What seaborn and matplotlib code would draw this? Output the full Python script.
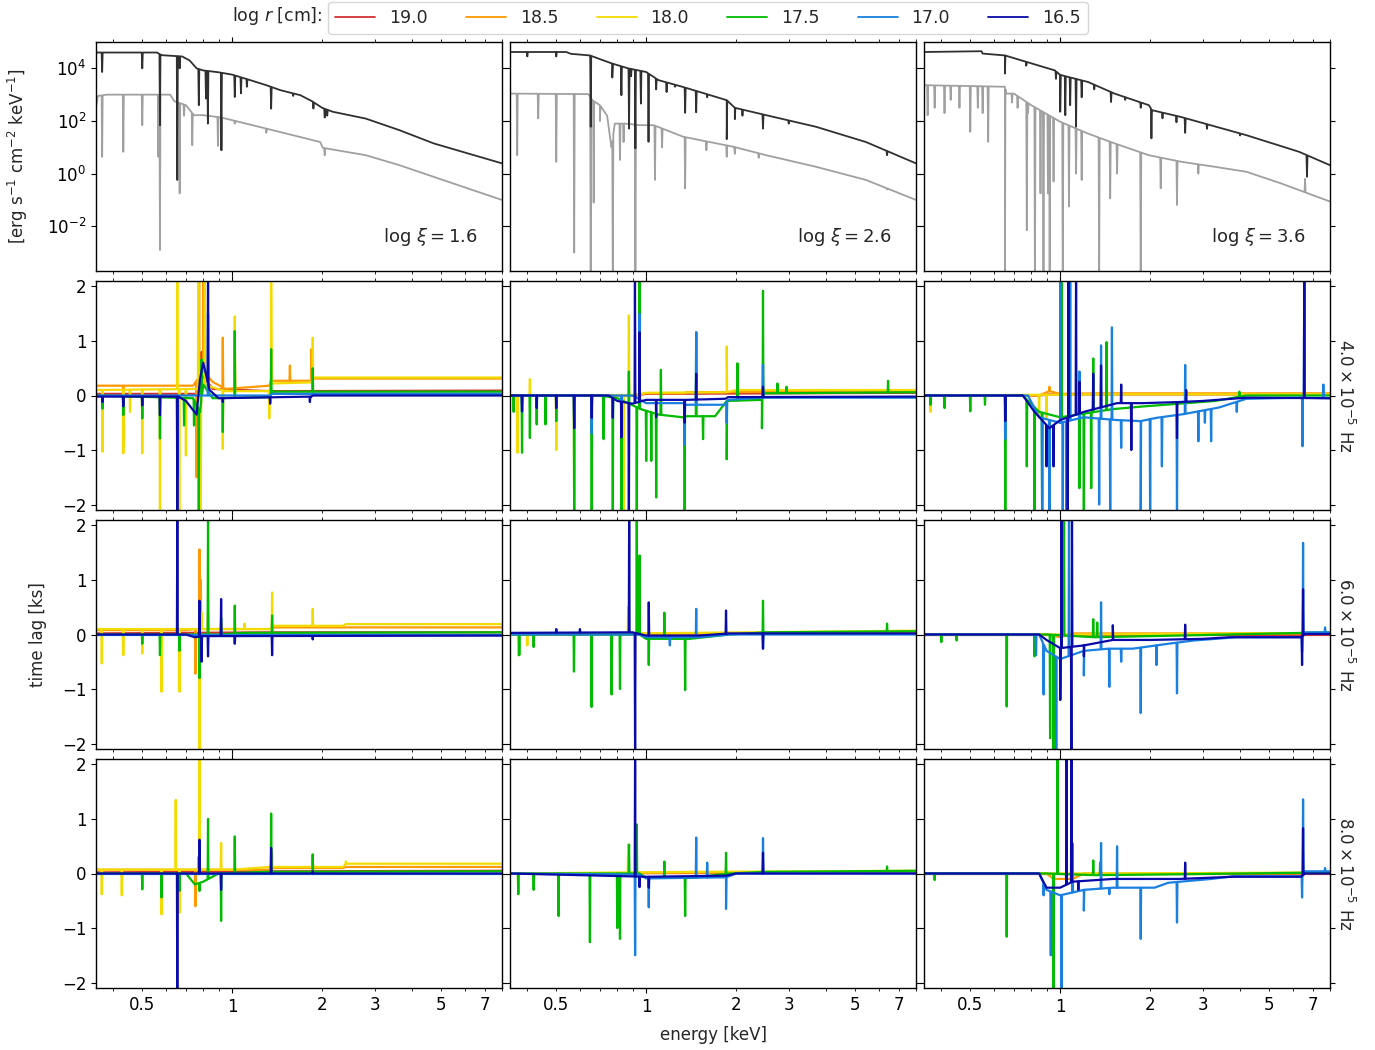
import numpy as np
import matplotlib
matplotlib.use("Agg")
import matplotlib.pyplot as plt
import seaborn as sns
from matplotlib.lines import Line2D
from matplotlib.ticker import FixedLocator, FuncFormatter, NullLocator, LogFormatterSciNotation

# ---------------- data ----------------
radii_labels = ["19.0", "18.5", "18.0", "17.5", "17.0", "16.5"]
radii_colors = ["#d23232", "#ff9900", "#f2dc00", "#00bb00", "#1a80e0", "#0a0aa8"]
xi_labels = ["1.6", "2.6", "3.6"]
freq_labels = [r"$4.0\times10^{-5}$ Hz", r"$6.0\times10^{-5}$ Hz", r"$8.0\times10^{-5}$ Hz"]

# spectra: continuum anchors (energy keV, log10 flux) and absorption lines (energy, log10 flux at line bottom)
dark_cont_x16 = [(0.35, 4.6), (0.56, 4.6), (0.58, 4.5), (0.68, 4.45), (0.72, 4.3), (0.76, 4.0), (0.80, 3.92), (0.9, 3.85),
                 (1.0, 3.76), (1.15, 3.55), (1.3, 3.36), (1.45, 3.17), (1.69, 2.98), (1.85, 2.75), (2.0, 2.5), (2.17, 2.35),
                 (2.8, 2.09), (3.63, 1.65), (4.72, 1.15), (6.14, 0.77), (8.0, 0.39)]
dark_lines_x16 = [(0.367, 3.86), (0.50, 4.0), (0.573, 1.84), (0.655, -0.24), (0.667, 4.0), (0.773, 2.6), (0.817, 2.85),
                  (0.829, 1.9), (0.92, 0.89), (1.02, 2.91), (1.07, 3.05), (1.12, 3.3), (1.35, 2.47), (1.6, 2.95),
                  (1.87, 2.47), (2.04, 2.13), (2.08, 2.2)]
gray_cont_x16 = [(0.35, 2.5), (0.355, 2.95), (0.38, 3.0), (0.62, 3.0), (0.64, 2.75), (0.70, 2.6), (0.745, 2.22), (0.80, 2.22),
                 (0.92, 2.13), (1.0, 2.03), (1.3, 1.71), (1.69, 1.39), (1.97, 1.2), (2.01, 0.98), (2.8, 0.70),
                 (3.63, 0.32), (4.72, -0.12), (6.14, -0.56), (8.0, -1.0)]
gray_lines_x16 = [(0.367, 0.64), (0.432, 0.83), (0.50, 1.84), (0.566, 0.64), (0.573, -2.9), (0.667, -0.75), (0.69, 2.2),
                  (0.735, 1.08), (0.896, 1.05), (0.92, 0.89), (1.02, 1.9), (1.07, 1.95), (1.3, 1.55), (2.04, 0.7)]

dark_cont_x26 = [(0.35, 4.62), (0.54, 4.62), (0.56, 4.55), (0.648, 4.49), (0.70, 4.35), (0.77, 4.18), (0.87, 4.0),
                 (1.0, 3.86), (1.1, 3.55), (1.33, 3.29), (1.86, 2.79), (1.98, 2.5), (2.52, 2.22), (3.7, 1.78),
                 (5.44, 1.2), (8.0, 0.39)]
dark_lines_x26 = [(0.40, 4.45), (0.50, 4.45), (0.652, 1.78), (0.77, 3.65), (0.826, 2.98), (0.876, 1.71), (0.89, 3.7),
                  (0.92, 0.96), (0.96, 2.66), (1.018, 1.21), (1.08, 3.2), (1.17, 3.1), (1.25, 3.3), (1.35, 2.31),
                  (1.47, 2.33), (1.6, 2.9), (1.86, 1.31), (1.98, 2.07), (2.1, 2.2), (2.46, 1.71), (3.0, 1.9), (6.4, 0.7)]
gray_cont_x26 = [(0.35, 3.04), (0.64, 3.02), (0.66, 2.79), (0.70, 2.6), (0.74, 2.2), (0.765, 1.0), (0.785, 1.9),
                 (0.85, 1.9), (0.953, 1.84), (1.06, 1.84), (1.33, 1.40), (1.96, 1.02), (2.52, 0.70), (3.7, 0.26),
                 (5.44, -0.24), (8.0, -1.0)]
gray_lines_x26 = [(0.37, 0.70), (0.435, 2.1), (0.50, 0.45), (0.574, -3.0), (0.652, -4.5), (0.667, -1.1), (0.70, 2.0),
                  (0.773, -4.5), (0.817, 0.52), (0.84, 1.2), (0.92, -4.5), (1.07, -0.24), (1.13, 1.0), (1.35, -0.56),
                  (1.59, 0.89), (1.86, 0.64), (1.98, 0.75), (2.38, 0.6), (6.4, -0.6)]

dark_cont_x36 = [(0.35, 4.62), (0.545, 4.65), (0.55, 4.56), (0.653, 4.49), (0.96, 3.92), (1.0, 3.75), (1.24, 3.48),
                 (1.52, 3.04), (1.98, 2.6), (2.03, 2.41), (2.54, 2.15), (4.2, 1.46), (6.3, 0.83), (8.0, 0.32)]
dark_lines_x36 = [(0.653, 3.8), (0.77, 4.1), (0.968, 3.6), (1.0, 2.35), (1.04, 2.22), (1.08, 2.6), (1.13, 1.78),
                  (1.18, 2.9), (1.3, 3.2), (1.48, 2.72), (1.65, 2.8), (1.86, 2.5), (2.02, 1.34), (2.2, 2.1),
                  (2.45, 1.95), (2.62, 1.55), (3.1, 1.7), (4.0, 1.45), (6.7, -0.12)]
gray_cont_x36 = [(0.35, 3.36), (0.653, 3.3), (0.66, 3.04), (0.70, 3.04), (0.80, 2.6), (1.0, 1.97), (1.24, 1.52),
                 (1.52, 1.15), (1.98, 0.70), (2.54, 0.45), (3.29, 0.26), (4.2, 0.07), (5.48, -0.37), (8.0, -1.06)]
gray_lines_x36 = [(0.36, 2.22), (0.38, 2.5), (0.41, 2.3), (0.43, 2.8), (0.46, 2.5), (0.50, 1.59), (0.53, 2.5),
                  (0.55, 2.3), (0.574, 1.21), (0.653, -4.5), (0.69, 2.7), (0.72, 2.5), (0.773, -2.15), (0.78, 2.3),
                  (0.823, -4.5), (0.859, -0.75), (0.879, -4.5), (0.91, -0.75), (0.922, -4.5), (0.95, -0.3),
                  (1.02, -4.5), (1.07, -1.25), (1.13, 0.0), (1.18, -0.24), (1.35, -4.5), (1.47, -0.94), (1.55, 0.0),
                  (1.86, -4.5), (2.17, -0.56), (2.46, -1.19), (2.9, 0.0), (6.6, -0.2)]

# time lags: baselines per radius index (energy, lag ks) and spikes (energy, radius index, lag ks)
base_f4_x16 = {0: [(0.35, 0.03), (0.76, 0.03), (0.80, 0.35), (0.86, 0.12), (1.34, 0.08), (8, 0.09)],
               1: [(0.35, 0.18), (0.74, 0.18), (0.80, 0.45), (0.86, 0.25), (0.95, 0.12), (1.33, 0.18), (1.35, 0.27),
                   (1.84, 0.27), (1.86, 0.31), (8, 0.31)],
               2: [(0.35, 0.1), (0.76, 0.12), (0.80, 0.2), (0.95, 0.08), (1.33, 0.08), (1.35, 0.22), (1.84, 0.24),
                   (1.86, 0.33), (8, 0.33)],
               3: [(0.35, 0), (0.74, -0.05), (0.78, -0.3), (0.80, 0.2), (0.86, -0.05), (1.34, -0.03), (1.36, 0.07), (8, 0.07)],
               4: [(0.35, 0), (1.34, 0), (1.36, 0.03), (8, 0.03)],
               5: [(0.35, -0.02), (0.66, -0.02), (0.70, -0.1), (0.76, -0.35), (0.78, 0.3), (0.80, 0.6), (0.84, 0.1),
                   (0.9, -0.05), (1.84, -0.02), (1.86, 0.0), (8, 0.0)]}
spikes_f4_x16 = [(0.368, 2, -1.03), (0.432, 2, -1.06), (0.455, 2, -0.3), (0.50, 2, -1.06), (0.573, 2, -2.3), (0.655, 2, 2.3),
                 (0.665, 2, -2.3), (0.70, 2, -1.1), (0.77, 2, 2.3), (0.785, 2, -2.3), (0.81, 2, 2.3), (0.93, 2, -0.98),
                 (1.02, 2, 1.45), (1.33, 2, -0.42), (1.35, 2, 2.3), (1.86, 2, 1.06),
                 (0.432, 1, -0.95), (0.76, 1, -1.5), (0.775, 1, 2.3), (0.80, 1, 2.3), (0.93, 1, 1.06), (1.02, 1, 1.2),
                 (1.56, 1, 0.55), (1.84, 1, 0.85), (0.79, 0, 0.8),
                 (0.368, 3, -0.24), (0.432, 3, -0.36), (0.50, 3, -0.42), (0.573, 3, -0.79), (0.69, 3, -0.55),
                 (0.745, 3, -0.55), (0.773, 3, -2.3), (0.79, 3, 0.66), (0.93, 3, -0.67), (1.02, 3, 1.18), (1.35, 3, 0.85),
                 (1.86, 3, 0.5), (0.655, 4, -1.5), (0.83, 4, 1.5),
                 (0.368, 5, -0.12), (0.432, 5, -0.2), (0.50, 5, -0.18), (0.573, 5, -0.36), (0.655, 5, -2.3),
                 (0.83, 5, 2.3), (0.93, 5, -0.12), (1.34, 5, -0.15), (1.82, 5, -0.12)]

base_f4_x26 = {0: [(0.35, 0), (0.9, 0), (1.0, 0.03), (8, 0.05)],
               1: [(0.35, 0), (0.93, 0.0), (1.0, 0.04), (1.34, 0.04), (1.36, 0.06), (8, 0.07)],
               2: [(0.35, 0), (0.9, 0.01), (1.0, 0.05), (1.86, 0.06), (2.0, 0.1), (8, 0.1)],
               3: [(0.35, 0), (0.70, 0), (0.80, -0.05), (0.96, -0.25), (1.1, -0.35), (1.33, -0.4), (1.36, -0.38),
                   (1.7, -0.38), (1.86, -0.1), (2.44, -0.08), (2.48, 0.04), (8, 0.06)],
               4: [(0.35, 0), (0.9, 0), (1.0, -0.14), (1.33, -0.14), (1.36, -0.17), (1.84, -0.17), (1.88, -0.08),
                   (2.45, -0.04), (8, -0.04)],
               5: [(0.35, 0), (0.75, 0), (0.80, -0.1), (0.9, -0.15), (1.0, -0.08), (1.36, -0.08), (1.84, -0.06),
                   (1.88, -0.03), (8, -0.02)]}
spikes_f4_x26 = [(0.371, 2, -1.05), (0.408, 2, 0.3), (0.50, 2, -1.0), (0.574, 2, -2.3), (0.84, 2, -2.3), (0.875, 2, 1.47),
                 (1.86, 2, 0.9), (0.95, 1, 0.13),
                 (0.36, 3, -0.3), (0.384, 3, -1.05), (0.408, 3, -0.78), (0.43, 3, -0.53), (0.46, 3, -0.53), (0.50, 3, -0.47),
                 (0.574, 3, -2.3), (0.657, 3, -2.3), (0.72, 3, -0.8), (0.773, 3, -2.3), (0.826, 3, -2.3), (0.875, 3, 0.44),
                 (0.93, 3, -2.3), (0.95, 3, 2.3), (1.0, 3, -1.2), (1.04, 3, -1.2), (1.08, 3, -1.87), (1.12, 3, 0.47),
                 (1.345, 3, -2.3), (1.47, 3, 1.16), (1.55, 3, -0.8), (1.86, 3, -1.17), (2.02, 3, 0.59), (2.44, 3, -0.6),
                 (2.46, 3, 1.92), (2.75, 3, 0.22), (2.95, 3, 0.16), (6.45, 3, 0.27),
                 (0.384, 4, -0.3), (0.574, 4, -0.6), (0.657, 4, -0.7), (0.826, 4, -0.7), (0.95, 4, 1.5), (1.345, 4, -0.9),
                 (1.47, 4, 1.16), (1.86, 4, -0.5), (2.46, 4, 0.56),
                 (0.384, 5, -0.29), (0.43, 5, -0.23), (0.50, 5, -0.23), (0.574, 5, -0.6), (0.657, 5, -0.41),
                 (0.773, 5, -0.41), (0.826, 5, -0.77), (0.875, 5, -2.3), (0.917, 5, 2.3), (0.95, 5, 1.16),
                 (1.08, 5, -0.4), (1.345, 5, -0.5), (1.47, 5, 0.4), (2.46, 5, 0.16)]

base_f4_x36 = {0: [(0.35, 0), (0.85, 0), (0.92, 0.02), (8, 0.02)],
               1: [(0.35, 0), (0.85, 0.0), (0.92, 0.08), (1.0, 0.03), (1.35, 0.04), (8, 0.04)],
               2: [(0.35, 0), (1.35, 0.02), (8, 0.02)],
               3: [(0.35, 0), (0.75, 0), (0.85, -0.3), (1.0, -0.4), (1.5, -0.25), (1.9, -0.2), (3.3, -0.1), (4.2, 0.0), (8, 0)],
               4: [(0.35, 0), (0.78, 0), (0.85, -0.4), (1.0, -0.5), (1.2, -0.4), (1.55, -0.45), (1.86, -0.47),
                   (2.1, -0.41), (2.6, -0.34), (3.4, -0.22), (4.2, -0.06), (6.4, -0.04), (8, -0.05)],
               5: [(0.35, 0), (0.75, 0), (0.82, -0.3), (0.92, -0.6), (1.0, -0.45), (1.2, -0.3), (1.55, -0.14),
                   (1.9, -0.14), (2.5, -0.12), (3.0, -0.1), (4.2, -0.04), (8, -0.05)]}
spikes_f4_x36 = [(0.368, 2, -0.3), (0.85, 2, -0.4), (0.9, 2, -0.4), (0.92, 1, 0.16),
                 (0.368, 3, -0.17), (0.41, 3, -0.23), (0.50, 3, -0.29), (0.56, 3, -0.17), (0.655, 3, -2.3),
                 (0.773, 3, -1.3), (0.82, 3, -2.3), (0.87, 3, -2.3), (1.01, 3, 2.3), (1.16, 3, -1.7), (1.2, 3, -2.3),
                 (1.27, 3, -1.7), (1.29, 3, 0.68), (1.43, 3, 0.98), (3.98, 3, 0.07),
                 (0.655, 4, -0.8), (0.87, 4, -2.3), (0.92, 4, -2.3), (1.0, 4, 2.3), (1.02, 4, -2.3), (1.05, 4, -2.3),
                 (1.08, 4, 2.3), (1.16, 4, 0.44), (1.35, 4, -2.0), (1.37, 4, 0.92), (1.47, 4, -2.3), (1.49, 4, 1.25),
                 (1.6, 4, -0.96), (1.86, 4, -2.3), (2.0, 4, -2.3), (2.19, 4, -1.3), (2.46, 4, -2.3), (2.62, 4, 0.56),
                 (2.9, 4, -0.84), (3.05, 4, -0.5), (3.2, 4, -0.84), (3.9, 4, -0.3), (6.47, 4, -0.93), (6.56, 4, 2.3),
                 (7.6, 4, 0.2),
                 (0.655, 5, -0.47), (0.9, 5, -1.3), (0.95, 5, -1.3), (1.06, 5, -2.3), (1.065, 5, 2.3), (1.13, 5, 2.3),
                 (1.16, 5, 0.25), (1.29, 5, 0.4), (1.37, 5, 0.55), (1.6, 5, 0.2), (1.73, 5, -1.0), (2.46, 5, -0.78),
                 (2.64, 5, 0.1), (6.56, 5, 2.3)]

base_f6_x16 = {0: [(0.35, 0.02), (1.36, 0.04), (8, 0.04)],
               1: [(0.35, 0.08), (0.7, 0.08), (0.75, 0.1), (1.35, 0.1), (1.37, 0.13), (8, 0.13)],
               2: [(0.35, 0.1), (1.34, 0.1), (1.37, 0.16), (2.35, 0.16), (2.4, 0.19), (8, 0.19)],
               3: [(0.35, 0), (0.9, 0), (1.1, 0.03), (8, 0.04)],
               4: [(0.35, 0), (8, 0)],
               5: [(0.35, 0), (0.7, 0.0), (0.75, -0.05), (0.8, -0.03), (8, -0.02)]}
spikes_f6_x16 = [(0.366, 2, -0.53), (0.432, 2, -0.38), (0.50, 2, -0.35), (0.58, 2, -1.05), (0.666, 2, -1.05),
                 (0.777, 2, -2.3), (0.79, 2, 0.4), (0.918, 2, 0.2), (1.1, 2, 0.2), (1.36, 2, 0.77), (1.86, 2, 0.47),
                 (0.753, 1, -0.72), (0.777, 1, 1.56), (0.785, 1, 1.0), (0.83, 1, 0.4),
                 (0.50, 3, -0.17), (0.573, 3, -0.38), (0.666, 3, -0.3), (0.777, 3, -0.8), (0.83, 3, 2.3),
                 (0.918, 3, 0.3), (1.02, 3, 0.53), (1.36, 3, 0.35),
                 (0.655, 5, 2.3), (0.777, 5, 0.62), (0.79, 5, -0.5), (0.83, 5, -0.4), (0.918, 5, 0.65),
                 (1.02, 5, -0.17), (1.36, 5, -0.38), (1.86, 5, -0.09)]

base_f6_x26 = {0: [(0.35, 0), (8, 0.02)],
               1: [(0.35, 0), (8, 0.04)],
               2: [(0.35, 0), (1.4, 0.03), (8, 0.07)],
               3: [(0.35, 0), (0.95, 0), (1.0, -0.08), (1.4, -0.08), (1.9, 0.0), (2.5, 0.04), (8, 0.06)],
               4: [(0.35, 0), (0.95, 0), (1.0, -0.05), (1.5, -0.05), (1.9, 0.0), (8, 0.0)],
               5: [(0.35, 0.03), (0.9, 0.04), (1.0, -0.02), (1.5, -0.02), (1.9, 0.02), (8, 0.02)]}
spikes_f6_x26 = [(0.373, 2, -0.38), (0.40, 2, -0.2), (0.87, 2, 0.5),
                 (0.376, 3, -0.38), (0.42, 3, -0.23), (0.573, 3, -0.68), (0.656, 3, -1.33), (0.766, 3, -1.1),
                 (0.817, 3, -1.0), (0.93, 3, 2.3), (0.95, 3, 1.45), (1.02, 3, -0.56), (1.15, 3, 0.4), (1.35, 3, -1.02),
                 (2.46, 3, 0.62), (6.4, 3, 0.2),
                 (1.2, 4, -0.2), (1.47, 4, 0.47), (2.46, 4, -0.26),
                 (0.5, 5, 0.1), (0.6, 5, 0.1), (0.877, 5, 2.3), (0.918, 5, -2.3), (1.02, 5, 0.59), (1.85, 5, 0.44),
                 (2.46, 5, -0.26)]

base_f6_x36 = {0: [(0.35, 0), (8, 0.0)],
               1: [(0.35, 0), (0.9, 0), (1.0, -0.05), (1.1, 0.02), (8, 0.02)],
               2: [(0.35, 0), (1.3, 0.0), (8, 0.03)],
               3: [(0.35, 0), (0.9, 0), (1.3, -0.05), (2.0, -0.03), (8, 0.04)],
               4: [(0.35, 0), (0.85, 0), (0.9, -0.3), (1.0, -0.45), (1.2, -0.3), (1.45, -0.26), (1.75, -0.26),
                   (2.3, -0.17), (2.8, -0.11), (3.9, -0.05), (6.4, -0.05), (6.6, 0.04), (8, 0.04)],
               5: [(0.35, 0), (0.85, 0), (0.9, -0.1), (1.0, -0.25), (1.2, -0.2), (1.5, -0.1), (2.0, -0.1),
                   (3.0, -0.08), (3.7, -0.05), (6.4, -0.05), (6.6, 0.01), (8, 0.01)]}
spikes_f6_x36 = [(0.40, 3, -0.14), (0.45, 3, -0.11), (0.662, 3, -1.32), (0.82, 3, -0.4), (0.925, 3, -1.9),
                 (0.95, 3, -2.3), (1.03, 3, 2.3), (1.29, 3, 0.28), (1.33, 3, 0.22),
                 (0.83, 4, -0.38), (0.88, 4, -1.1), (0.97, 4, -2.3), (1.0, 4, -1.2), (1.07, 4, 2.3), (1.2, 4, -0.75),
                 (1.37, 4, 0.59), (1.46, 4, -0.96), (1.6, 4, -0.5), (1.86, 4, -1.44), (2.1, 4, -0.56),
                 (2.46, 4, -1.08), (6.45, 4, -0.32), (6.5, 4, 1.68), (7.7, 4, 0.13),
                 (1.0, 5, -1.2), (1.01, 5, 2.3), (1.09, 5, -2.3), (1.095, 5, 2.3), (1.2, 5, -0.4), (1.5, 5, 0.17),
                 (2.62, 5, 0.18), (6.45, 5, -0.56), (6.5, 5, 0.83)]

base_f8_x16 = {0: [(0.35, 0.02), (1.36, 0.04), (8, 0.05)],
               1: [(0.35, 0.07), (1.35, 0.07), (1.37, 0.1), (2.35, 0.1), (2.4, 0.12), (8, 0.12)],
               2: [(0.35, 0.07), (1.0, 0.07), (1.34, 0.12), (2.35, 0.12), (2.4, 0.18), (8, 0.18)],
               3: [(0.35, 0), (0.7, 0), (0.75, -0.2), (0.8, -0.15), (0.9, 0.0), (1.3, 0.03), (8, 0.04)],
               4: [(0.35, 0), (8, 0)],
               5: [(0.35, 0), (8, 0)]}
spikes_f8_x16 = [(0.366, 2, -0.38), (0.427, 2, -0.4), (0.58, 2, -0.75), (0.647, 2, 1.35), (0.666, 2, -0.72),
                 (0.777, 2, 2.3), (0.918, 2, 0.56), (1.36, 2, 0.4), (1.86, 2, 0.35), (2.4, 2, 0.22),
                 (0.753, 1, -0.6), (0.77, 1, 0.3),
                 (0.50, 3, -0.29), (0.58, 3, -0.44), (0.666, 3, -0.32), (0.777, 3, -0.32), (0.83, 3, 1.0),
                 (0.918, 3, -0.87), (1.02, 3, 0.68), (1.35, 3, 1.1), (1.86, 3, 0.35),
                 (0.655, 5, -2.3), (0.777, 5, 0.62), (0.918, 5, -0.3), (1.35, 5, 0.47), (1.86, 5, 0.04)]

base_f8_x26 = {0: [(0.35, 0), (8, 0.02)],
               1: [(0.35, 0), (8, 0.03)],
               2: [(0.35, 0), (1.4, 0.03), (8, 0.05)],
               3: [(0.35, 0), (0.95, 0), (1.0, -0.08), (1.4, -0.08), (1.9, 0.0), (2.5, 0.03), (8, 0.05)],
               4: [(0.35, 0), (0.95, -0.02), (1.0, -0.09), (1.85, -0.07), (2.0, 0.0), (8, 0.0)],
               5: [(0.35, 0), (0.85, -0.05), (1.0, -0.06), (1.85, -0.04), (2.0, 0.0), (8, 0.0)]}
spikes_f8_x26 = [(0.373, 2, -0.38), (0.87, 2, 0.53),
                 (0.373, 3, -0.38), (0.42, 3, -0.3), (0.509, 3, -0.78), (0.648, 3, -1.26), (0.80, 3, -1.0),
                 (0.817, 3, -1.2), (0.876, 3, 0.53), (0.93, 3, 0.9), (1.15, 3, 0.22), (1.35, 3, -0.78),
                 (1.85, 3, 0.38), (6.4, 3, 0.13),
                 (0.918, 4, -1.5), (1.02, 4, -0.62), (1.47, 4, 0.66), (1.6, 4, 0.2), (1.85, 4, -0.65), (2.46, 4, 0.65),
                 (0.918, 5, 2.3), (0.95, 5, -0.25), (1.02, 5, -0.26), (2.46, 5, 0.38)]

base_f8_x36 = {0: [(0.35, 0), (8, 0.0)],
               1: [(0.35, 0), (0.9, 0), (0.95, -0.1), (1.1, -0.1), (1.2, 0.0), (8, 0.0)],
               2: [(0.35, 0), (1.5, 0.0), (8, 0.02)],
               3: [(0.35, 0), (0.9, 0), (1.3, -0.03), (2.0, -0.02), (8, 0.02)],
               4: [(0.35, 0), (0.85, 0), (0.9, -0.3), (1.0, -0.4), (1.2, -0.3), (1.5, -0.26), (2.07, -0.26),
                   (2.3, -0.17), (3.2, -0.1), (3.8, -0.05), (6.4, -0.05), (6.6, 0.04), (8, 0.04)],
               5: [(0.35, 0), (0.85, 0), (0.9, -0.26), (1.0, -0.26), (1.1, -0.15), (1.5, -0.1), (2.5, -0.1),
                   (3.8, -0.06), (6.4, -0.06), (6.6, 0), (8, 0)]}
spikes_f8_x36 = [(0.38, 3, -0.12), (0.662, 3, -1.16), (0.95, 3, -2.3), (0.98, 3, 2.3), (1.29, 3, 0.24), (1.36, 3, 0.2),
                 (0.88, 4, -0.4), (0.93, 4, -1.5), (1.01, 4, -2.3), (1.1, 4, 0.55), (1.2, 4, -0.68), (1.37, 4, 0.56),
                 (1.46, 4, -0.38), (1.55, 4, 0.5), (1.86, 4, -1.2), (2.46, 4, -0.9), (6.45, 4, -0.44), (6.5, 4, 1.36),
                 (7.7, 4, 0.1),
                 (1.05, 5, 2.3), (1.09, 5, 2.3), (1.15, 5, -0.3), (2.62, 5, 0.2), (6.5, 5, 0.83)]

spectra = [(dark_cont_x16, dark_lines_x16, gray_cont_x16, gray_lines_x16),
           (dark_cont_x26, dark_lines_x26, gray_cont_x26, gray_lines_x26),
           (dark_cont_x36, dark_lines_x36, gray_cont_x36, gray_lines_x36)]
lags = [[(base_f4_x16, spikes_f4_x16), (base_f4_x26, spikes_f4_x26), (base_f4_x36, spikes_f4_x36)],
        [(base_f6_x16, spikes_f6_x16), (base_f6_x26, spikes_f6_x26), (base_f6_x36, spikes_f6_x36)],
        [(base_f8_x16, spikes_f8_x16), (base_f8_x26, spikes_f8_x26), (base_f8_x36, spikes_f8_x36)]]


def build(base, lines, w):
    be = np.log10([b[0] for b in base])
    bv = np.array([b[1] for b in base], dtype=float)

    def lev(e):
        return float(np.interp(np.log10(e), be, bv))
    pts = [tuple(b) for b in base]
    for e, v in lines:
        pts += [(e * (1 - w), lev(e * (1 - w))), (e, v), (e * (1 + w), lev(e * (1 + w)))]
    pts.sort(key=lambda p: p[0])
    return np.array([p[0] for p in pts]), np.array([p[1] for p in pts])


# ---------------- style ----------------
sns.set_style("ticks", {"axes.edgecolor": "black", "xtick.color": "black", "ytick.color": "black"})
plt.rcParams["font.family"] = ["DejaVu Sans"]
plt.rcParams["font.size"] = 12
plt.rcParams["axes.linewidth"] = 1.0

fig, axes = plt.subplots(4, 3, figsize=(13.75, 10.5), dpi=100)
fig.subplots_adjust(left=96 / 1375, right=1330 / 1375, top=1 - 42 / 1050, bottom=1 - 988 / 1050,
                    wspace=8 / 406, hspace=10 / 229)

minor_x = [0.4, 0.5, 0.6, 0.7, 0.8, 0.9, 2, 3, 4, 5, 6, 7, 8]
minor_lab = {0.5: "0.5", 2: "2", 3: "3", 5: "5", 7: "7"}

for r in range(4):
    for c in range(3):
        ax = axes[r, c]
        if r == 0:
            dc, dl, gc, gl = spectra[c]
            ex, ev = build(gc, gl, 0.004)
            sns.lineplot(x=ex, y=10 ** ev, ax=ax, color="#a0a0a0", linewidth=1.3, estimator=None, sort=False)
            ex, ev = build(dc, dl, 0.004)
            sns.lineplot(x=ex, y=10 ** ev, ax=ax, color="#303030", linewidth=1.3, estimator=None, sort=False)
            ax.set_yscale("log")
            ax.set_ylim(2e-4, 1e5)
            ax.yaxis.set_major_locator(FixedLocator([1e-2, 1, 1e2, 1e4]))
            ax.yaxis.set_major_formatter(LogFormatterSciNotation())
            ax.yaxis.set_minor_locator(NullLocator())
            ax.text(0.94, 0.15, r"$\log\,\xi = %s$" % xi_labels[c], transform=ax.transAxes,
                    ha="right", va="center", fontsize=13)
        else:
            base, spikes = lags[r - 1][c]
            for k in range(6):
                b = base.get(k, [(0.35, 0.0), (8.0, 0.0)])
                sp = [(e, v) for (e, idx, v) in spikes if idx == k]
                ex, ev = build(b, sp, 0.003)
                sns.lineplot(x=ex, y=ev, ax=ax, color=radii_colors[k], linewidth=1.6, estimator=None, sort=False)
            ax.set_ylim(-2.1, 2.1)
            ax.set_yticks([-2, -1, 0, 1, 2])
            if c == 2:
                ax.text(1.012, 0.5, freq_labels[r - 1], transform=ax.transAxes, rotation=270,
                        ha="left", va="center", fontsize=12)
        ax.set_xscale("log")
        ax.set_xlim(0.35, 8.0)
        ax.xaxis.set_major_locator(FixedLocator([1]))
        ax.xaxis.set_minor_locator(FixedLocator(minor_x))
        ax.xaxis.set_major_formatter(FuncFormatter(lambda v, p: "1"))
        ax.xaxis.set_minor_formatter(FuncFormatter(lambda v, p: minor_lab.get(round(v, 2), "")))
        ax.tick_params(which="both", direction="out", top=True, right=True, labelsize=12)
        ax.tick_params(axis="x", which="both", labelbottom=(r == 3))
        ax.tick_params(axis="y", which="both", labelleft=(c == 0))
        ax.set_xlabel("")
        ax.set_ylabel("")

fig.text(18 / 1375, 1 - 156 / 1050, r"[erg s$^{-1}$ cm$^{-2}$ keV$^{-1}$]", rotation=90,
         ha="center", va="center", fontsize=12)
fig.text(38 / 1375, 1 - 635 / 1050, "time lag [ks]", rotation=90, ha="center", va="center", fontsize=12)
fig.text(713 / 1375, 1 - 1035 / 1050, "energy [keV]", ha="center", va="center", fontsize=12)

handles = [Line2D([0], [0], color=col, lw=1.3) for col in radii_colors]
fig.legend(handles, radii_labels, loc="upper center", bbox_to_anchor=(708 / 1375, 1.0), ncol=6,
           fontsize=12.5, handlelength=2.3, columnspacing=2.2, frameon=True, borderaxespad=0.1)
fig.text(322 / 1375, 1 - 16 / 1050, r"log $r$ [cm]:", ha="right", va="center", fontsize=12.5)

fig.savefig("out.png", dpi=100)
